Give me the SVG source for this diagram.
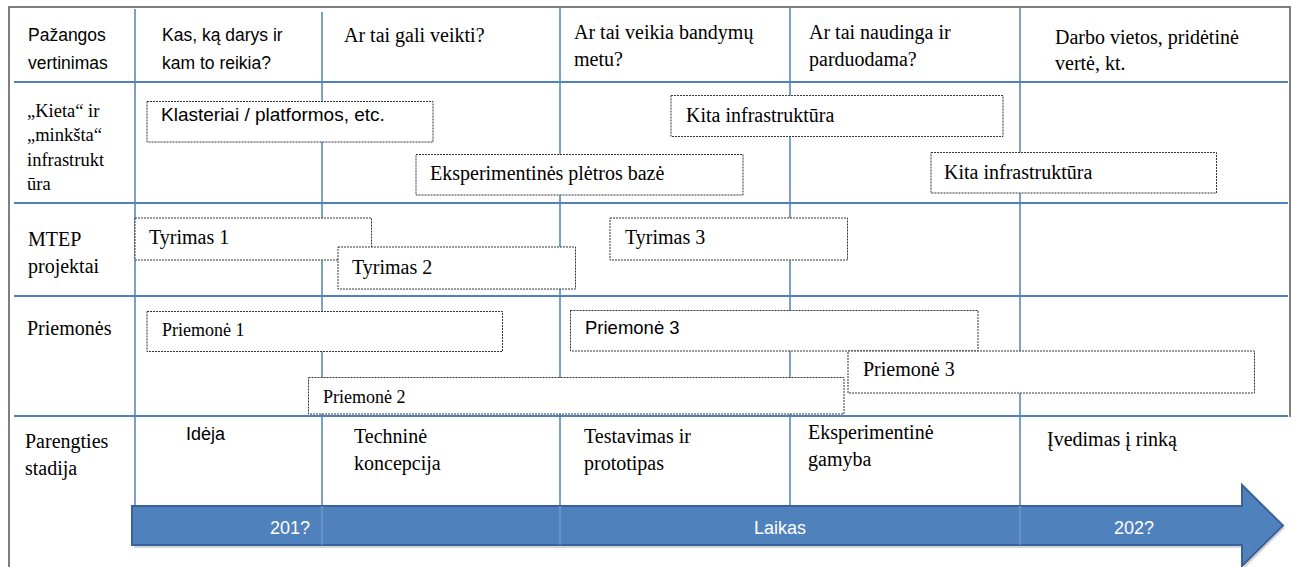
<svg xmlns="http://www.w3.org/2000/svg" width="1297" height="567" viewBox="0 0 1297 567">
<style>
.serif{font-family:"Liberation Serif","Times New Roman",serif;font-size:20px;fill:#000}
.sans{font-family:"Liberation Sans",Arial,sans-serif;font-size:17.5px;fill:#000}
.box{fill:#fff;stroke:#333;stroke-width:1;stroke-dasharray:2 1}
.hl{stroke:#4F81BD;stroke-width:2;fill:none}
.vl{stroke:#4F81BD;stroke-width:1.5;fill:none}
.border{stroke:#555;stroke-width:1.5;fill:none}
.white{font-family:"Liberation Sans",Arial,sans-serif;font-size:18px;fill:#fff;text-anchor:middle}
</style>
<rect width="1297" height="567" fill="#fff"/>
<g id="grid">
<path class="border" d="M9,567 V7 H1290 V417"/>
<path class="hl" d="M14,82 H1288 M14,203 H1288 M14,296 H1288 M14,416 H1288"/>
<path class="vl" d="M135,9 V506 M322,12 V506 M560,8 V506 M790,8 V506 M1020,8 V506"/>
</g>
<g id="timeline">
<polygon points="134,509 1244,509 1244,488 1285,528 1244,569 1244,548 134,548" fill="#bbb" opacity="0.6"/>
<polygon points="132,506 1242,506 1242,485 1283,525.5 1242,566 1242,545 132,545" fill="#4F81BD" stroke="#3A6199" stroke-width="2"/>
<path d="M322,506 V545 M560,506 V545 M1020,506 V545" stroke="#7FA3D3" stroke-width="1" fill="none"/>
<text class="white" x="290" y="534">201?</text>
<text class="white" x="780" y="534">Laikas</text>
<text class="white" x="1134" y="534">202?</text>
</g>
<g id="header">
<text class="sans" x="28" y="41">Pažangos</text>
<text class="sans" x="28" y="69">vertinimas</text>
<text class="sans" x="162" y="41">Kas, ką darys ir</text>
<text class="sans" x="162" y="69">kam to reikia?</text>
<text class="serif" x="344" y="42">Ar tai gali veikti?</text>
<text class="serif" x="574" y="39">Ar tai veikia bandymų</text>
<text class="serif" x="574" y="66">metu?</text>
<text class="serif" x="809" y="39">Ar tai naudinga ir</text>
<text class="serif" x="809" y="66">parduodama?</text>
<text class="serif" x="1055" y="44">Darbo vietos, pridėtinė</text>
<text class="serif" x="1055" y="70">vertė, kt.</text>
</g>
<g id="row-labels">
<text class="serif" style="font-size:18.5px" x="27" y="117">„Kieta“ ir</text>
<text class="serif" style="font-size:18.5px" x="27" y="141">„minkšta“</text>
<text class="serif" style="font-size:18.5px" x="27" y="166">infrastrukt</text>
<text class="serif" style="font-size:18.5px" x="27" y="190">ūra</text>
<text class="serif" x="28" y="246">MTEP</text>
<text class="serif" x="28" y="273">projektai</text>
<text class="serif" x="27" y="335">Priemonės</text>
<text class="serif" x="25" y="448">Parengties</text>
<text class="serif" x="25" y="475">stadija</text>
</g>
<g id="node-klasteriai">
<rect class="box" x="147" y="101.5" width="286" height="40.5"/>
<text class="sans" style="font-size:19px" x="161" y="121">Klasteriai / platformos, etc.</text>
</g>
<g id="node-kita1">
<rect class="box" x="671" y="95.5" width="332" height="41"/>
<text class="serif" x="686" y="122">Kita infrastruktūra</text>
</g>
<g id="node-eksperimentines">
<rect class="box" x="416" y="154.5" width="327" height="40.5"/>
<text class="serif" x="430" y="180">Eksperimentinės plėtros bazė</text>
</g>
<g id="node-kita2">
<rect class="box" x="931" y="152.5" width="285.5" height="40.5"/>
<text class="serif" x="944" y="178.5">Kita infrastruktūra</text>
</g>
<g id="node-tyrimas1">
<rect class="box" x="135" y="218" width="236.5" height="42"/>
<text class="serif" x="149" y="243.5">Tyrimas 1</text>
</g>
<g id="node-tyrimas2">
<rect class="box" x="338" y="247" width="237.5" height="42"/>
<text class="serif" x="352" y="273.5">Tyrimas 2</text>
</g>
<g id="node-tyrimas3">
<rect class="box" x="610" y="218" width="237.5" height="42"/>
<text class="serif" x="625" y="243.5">Tyrimas 3</text>
</g>
<g id="node-priemone1">
<rect class="box" x="147" y="311.5" width="355.5" height="40"/>
<text class="serif" style="font-size:18px" x="162" y="336">Priemonė 1</text>
</g>
<g id="node-priemone3a">
<rect class="box" x="570.5" y="310.5" width="407.5" height="40.5"/>
<text class="sans" style="font-size:18.5px" x="585" y="334">Priemonė 3</text>
</g>
<g id="node-priemone3b">
<rect class="box" x="848" y="351" width="406.5" height="42"/>
<text class="serif" x="863" y="376">Priemonė 3</text>
</g>
<g id="node-priemone2">
<rect class="box" x="308.5" y="377.5" width="535.5" height="36.5"/>
<text class="serif" style="font-size:18px" x="323" y="402.5">Priemonė 2</text>
</g>
<g id="stages">
<text class="sans" style="font-size:18px" x="186" y="440">Idėja</text>
<text class="serif" x="354" y="443">Techninė</text>
<text class="serif" x="354" y="470">koncepcija</text>
<text class="serif" x="584" y="443">Testavimas ir</text>
<text class="serif" x="584" y="470">prototipas</text>
<text class="serif" x="808" y="439">Eksperimentinė</text>
<text class="serif" x="808" y="466">gamyba</text>
<text class="serif" x="1047" y="446">Įvedimas į rinką</text>
</g>
</svg>
